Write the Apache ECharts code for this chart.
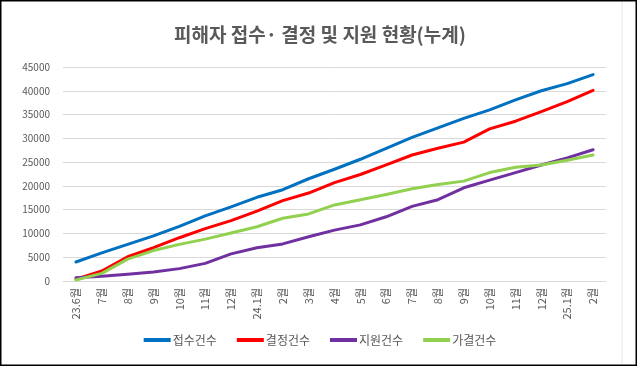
<!DOCTYPE html>
<html>
<head>
<meta charset="utf-8">
<script src="https://cdn.jsdelivr.net/npm/echarts@6/dist/echarts.min.js"></script>
<style>
html,body{margin:0;padding:0;background:#fff;}
#chart{width:640px;height:367px;}
</style>
</head>
<body>
<div id="chart"></div>
<script>
var categories = ['23.6월','7월','8월','9월','10월','11월','12월','24.1월','2월','3월','4월','5월','6월','7월','8월','9월','10월','11월','12월','25.1월','2월'];
var seriesNames = ['접수건수','결정건수','지원건수','가결건수'];
var received = [4000, 5900, 7700, 9500, 11500, 13700, 15600, 17600, 19200, 21500, 23500, 25600, 27900, 30200, 32200, 34200, 36000, 38100, 40000, 41500, 43400];
var decided  = [400, 2100, 5100, 7000, 9100, 11000, 12700, 14700, 16900, 18500, 20700, 22400, 24400, 26500, 27900, 29200, 32000, 33600, 35600, 37700, 40100];
var supported = [700, 1000, 1400, 1900, 2600, 3700, 5700, 7000, 7800, 9300, 10700, 11800, 13500, 15700, 17100, 19600, 21200, 22800, 24400, 25900, 27600];
var approved = [200, 1600, 4600, 6400, 7700, 8800, 10100, 11400, 13200, 14100, 16000, 17100, 18200, 19400, 20300, 21000, 22800, 23900, 24400, 25400, 26500];
var colors = ['#0070C0','#FF0000','#7030A0','#92D050'];
var values = [received, decided, supported, approved];

var chart = echarts.init(document.getElementById('chart'), null, {renderer:'canvas'});
var font = '"Noto Sans CJK KR", "Noto Sans", sans-serif';
chart.setOption({
  backgroundColor: '#ffffff',
  animation: false,
  textStyle: {fontFamily: font},
  title: {
    text: '피해자 접수· 결정 및 지원 현황(누계)',
    left: 'center',
    top: 20,
    textStyle: {fontFamily: font, fontSize: 19, fontWeight: 'bold', color: '#595959'}
  },
  legend: {
    bottom: 16,
    left: 'center',
    itemWidth: 27,
    itemHeight: 4,
    itemGap: 20,
    icon: 'rect',
    textStyle: {fontFamily: font, fontSize: 12, color: '#595959', padding: [0,0,0,-3]},
    data: seriesNames
  },
  grid: {left: 63, right: 34, top: 67, bottom: 86, containLabel: false},
  xAxis: {
    type: 'category',
    data: categories,
    boundaryGap: true,
    axisLine: {lineStyle: {color: '#d9d9d9', width: 1}},
    axisTick: {show: false},
    axisLabel: {rotate: 90, fontSize: 11, color: '#595959', margin: 7, interval: 0, fontFamily: font}
  },
  yAxis: {
    type: 'value',
    min: 0,
    max: 45000,
    interval: 5000,
    axisLine: {show: false},
    axisTick: {show: false},
    axisLabel: {fontSize: 10, color: '#595959', margin: 13, fontFamily: font, formatter: function(v){ return String(v); }},
    splitLine: {lineStyle: {color: '#d9d9d9', width: 1}}
  },
  series: seriesNames.map(function(n, i){
    return {
      name: n,
      type: 'line',
      data: values[i],
      showSymbol: false,
      symbol: 'none',
      smooth: false,
      color: colors[i],
      lineStyle: {color: colors[i], width: 3, cap: 'round', join: 'round'}
    };
  }),
  graphic: [
    {type: 'line', shape: {x1: 622, y1: 0, x2: 622, y2: 366}, style: {stroke: '#e6e6e6', lineWidth: 1}, silent: true},
    {type: 'rect', shape: {x: 0.75, y: 0.75, width: 635.5, height: 364.5}, style: {fill: 'none', stroke: '#000', lineWidth: 1.5}, silent: true}
  ]
});
</script>
</body>
</html>
